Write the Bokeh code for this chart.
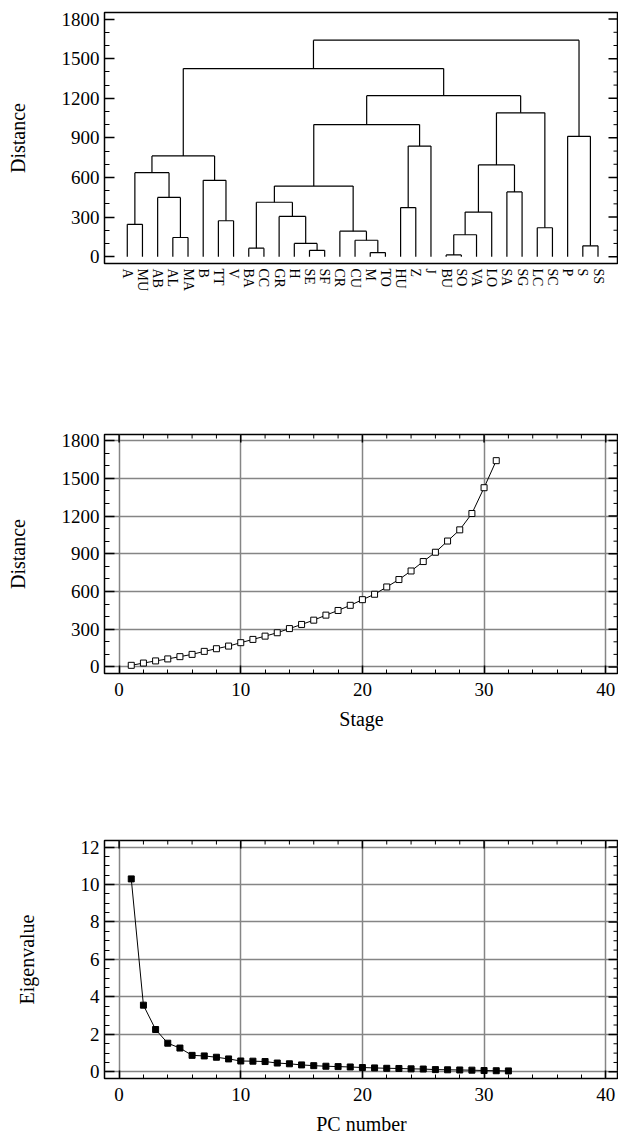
import numpy as np
from bokeh.plotting import figure
from bokeh.layouts import column
from bokeh.models import LinearAxis, Range1d, SingleIntervalTicker, FixedTicker, Grid
from bokeh.embed import file_html
from bokeh.resources import INLINE

# ---------------- data ----------------
leaf_labels = ["A", "MU", "AB", "AL", "MA", "B", "TT", "V", "BA", "CC", "GR", "H",
               "SE", "SF", "CR", "CU", "M", "TO", "HU", "Z", "J", "BU", "SO", "VA",
               "LO", "SA", "SG", "LC", "SC", "P", "S", "SS"]
# merges: cluster ids 0..31 are leaves, merge k creates cluster 32+k
merge_left = [21, 16, 12, 8, 30, 11, 15, 3, 23, 14, 27, 0, 6, 10, 40, 18, 35, 2, 25,
              48, 5, 43, 46, 53, 47, 29, 51, 54, 58, 55, 61]
merge_right = [22, 17, 13, 9, 31, 34, 33, 4, 32, 38, 28, 1, 7, 37, 24, 19, 45, 39, 26,
               41, 44, 49, 50, 52, 20, 36, 56, 42, 59, 60, 57]
merge_height = [13, 31, 48, 64, 82, 100, 124, 145, 166, 193, 219, 245, 272, 305, 338,
                372, 412, 449, 490, 535, 578, 636, 695, 763, 838, 912, 1001, 1090,
                1220, 1425, 1640]

stages = list(range(1, 32))
stage_distance = [13, 31, 48, 64, 82, 100, 124, 145, 166, 193, 219, 245, 272, 305, 338,
                  372, 412, 449, 490, 535, 578, 636, 695, 763, 838, 912, 1001, 1090,
                  1220, 1425, 1640]

pc_number = list(range(1, 33))
eigenvalue = [10.30, 3.56, 2.26, 1.53, 1.27, 0.88, 0.85, 0.78, 0.69, 0.58, 0.57, 0.55,
              0.47, 0.43, 0.37, 0.33, 0.30, 0.28, 0.26, 0.23, 0.21, 0.19, 0.18, 0.16,
              0.15, 0.12, 0.11, 0.10, 0.09, 0.07, 0.06, 0.05]

FONT = "Liberation Serif"
TICK_FS = "19px"
TITLE_FS = "20px"
GRID = "#858585"


def style_axis(ax, major_in, minor_in):
    ax.axis_line_color = None
    ax.major_tick_in = major_in
    ax.major_tick_out = 0
    ax.minor_tick_in = minor_in
    ax.minor_tick_out = 0
    ax.major_tick_line_color = "black"
    ax.minor_tick_line_color = "black"
    ax.major_tick_line_width = 1.5
    ax.minor_tick_line_width = 1
    ax.major_label_text_font = FONT
    ax.major_label_text_font_size = TICK_FS
    ax.major_label_text_color = "black"
    ax.axis_label_text_font = FONT
    ax.axis_label_text_font_style = "normal"
    ax.axis_label_text_font_size = TITLE_FS
    ax.axis_label_text_color = "black"


def base_fig(height, x_range, y_range, top, bottom):
    p = figure(width=618, height=height, x_range=x_range, y_range=y_range,
               output_backend="svg", toolbar_location=None,
               min_border_left=104, min_border_right=0,
               min_border_top=top, min_border_bottom=bottom)
    p.outline_line_color = "black"
    p.outline_line_width = 1.5
    p.background_fill_color = "white"
    p.border_fill_color = "white"
    p.xaxis.visible = False
    p.yaxis.visible = False
    p.xgrid.visible = False
    p.ygrid.visible = False
    return p


def interval_ticks(rng, step, minor_per):
    lo = np.ceil(rng.start / step) * step
    major = np.arange(lo, rng.end + 1e-9, step)
    mstep = step / minor_per
    mlo = np.ceil(rng.start / mstep) * mstep
    allm = np.arange(mlo, rng.end + 1e-9, mstep)
    minor = [v for v in allm if abs(v / step - round(v / step)) > 1e-6]
    return list(major), minor


def right_ticks(p, step, minor_per, major_len, minor_len):
    major, minor = interval_ticks(p.y_range, step, minor_per)
    xe = p.x_range.end
    p.scatter([xe] * len(major), major, marker="dash", size=2 * major_len,
              line_color="black", line_width=1.5)
    p.scatter([xe] * len(minor), minor, marker="dash", size=2 * minor_len,
              line_color="black", line_width=1)


def top_ticks(p, step, minor_per, major_len, minor_len):
    major, minor = interval_ticks(p.x_range, step, minor_per)
    ye = p.y_range.end
    p.scatter(major, [ye] * len(major), marker="dash", angle=np.pi / 2,
              size=2 * major_len, line_color="black", line_width=1.5)
    p.scatter(minor, [ye] * len(minor), marker="dash", angle=np.pi / 2,
              size=2 * minor_len, line_color="black", line_width=1)


# ---------------- dendrogram ----------------
p1 = base_fig(300, Range1d(-0.5, 33.35), Range1d(-52, 1850), 12, 37)

xpos = {i: i + 1 for i in range(len(leaf_labels))}
hpos = {i: 0 for i in range(len(leaf_labels))}
x0s, y0s, x1s, y1s = [], [], [], []
for k, (l, r, h) in enumerate(zip(merge_left, merge_right, merge_height)):
    cid = len(leaf_labels) + k
    xl, xr = xpos[l], xpos[r]
    x0s += [xl, xr, xl]
    y0s += [hpos[l], hpos[r], h]
    x1s += [xl, xr, xr]
    y1s += [h, h, h]
    xpos[cid] = (xl + xr) / 2
    hpos[cid] = h
p1.segment(x0=x0s, y0=y0s, x1=x1s, y1=y1s, line_color="black", line_width=1.2)

ly = LinearAxis(ticker=SingleIntervalTicker(interval=300, num_minor_ticks=3),
                axis_label="Distance")
style_axis(ly, 10, 5)
ly.axis_label_standoff = 30
p1.add_layout(ly, "left")
right_ticks(p1, 300, 3, 10, 5)

bx = LinearAxis(ticker=FixedTicker(ticks=list(range(1, len(leaf_labels) + 1))),
                major_label_overrides={i + 1: n for i, n in enumerate(leaf_labels)})
style_axis(bx, 0, 0)
bx.major_label_text_font_size = "14px"
bx.major_label_orientation = "vertical"
bx.major_label_standoff = 5
p1.add_layout(bx, "below")


# ---------------- line charts ----------------
def line_chart(height, top, bottom, y_range, y_interval, y_minor, xlabel, ylabel):
    p = base_fig(height, Range1d(-1.2, 41.05), y_range, top, bottom)
    xt = SingleIntervalTicker(interval=10, num_minor_ticks=5)
    yt = SingleIntervalTicker(interval=y_interval, num_minor_ticks=y_minor)
    p.add_layout(Grid(dimension=0, ticker=xt, grid_line_color=GRID, grid_line_width=1.5))
    p.add_layout(Grid(dimension=1, ticker=yt, grid_line_color=GRID, grid_line_width=1.5))
    lx = LinearAxis(ticker=xt, axis_label=xlabel)
    style_axis(lx, 8, 4)
    lx.major_label_standoff = 9
    lx.axis_label_standoff = 9
    p.add_layout(lx, "below")
    lyy = LinearAxis(ticker=yt, axis_label=ylabel)
    style_axis(lyy, 10, 5)
    p.add_layout(lyy, "left")
    top_ticks(p, 10, 5, 8, 4)
    right_ticks(p, y_interval, y_minor, 10, 5)
    return p, lyy


p2, ly2 = line_chart(460, 134, 87, Range1d(-52, 1848), 300, 3, "Stage", "Distance")
ly2.axis_label_standoff = 30
p2.line(stages, stage_distance, line_color="black", line_width=1)
p2.scatter(stages, stage_distance, marker="square", size=6, fill_color="white",
           line_color="black", line_width=1)

p3, ly3 = line_chart(377, 80, 57, Range1d(-0.355, 12.35), 2, 4, "PC number", "Eigenvalue")
ly3.axis_label_standoff = 40
p3.line(pc_number, eigenvalue, line_color="black", line_width=1)
p3.scatter(pc_number, eigenvalue, marker="square", size=6, fill_color="black",
           line_color="black")

layout = column(p1, p2, p3)
open("out.html", "w").write(file_html(layout, INLINE))
